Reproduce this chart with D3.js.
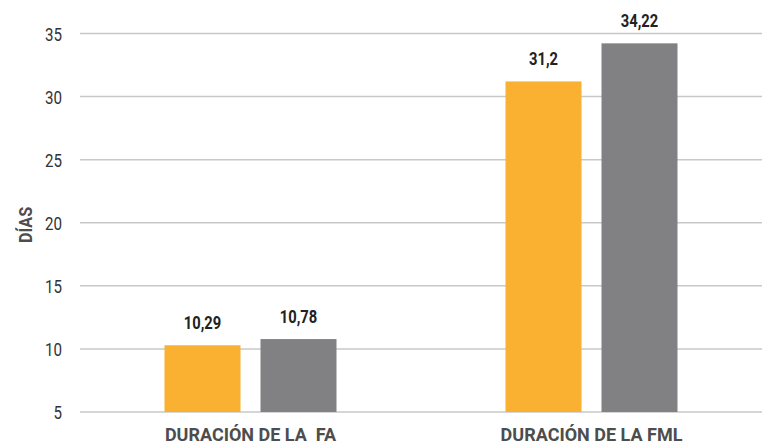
<!DOCTYPE html>
<html><head><meta charset="utf-8">
<script src="https://cdn.jsdelivr.net/npm/d3@7"></script>
<style>
body{margin:0;background:#fff;}
text{font-family:Roboto,"Noto Sans",sans-serif;}
</style></head>
<body><svg id="c" width="766" height="445"></svg>
<script>
const categories = ["DURACIÓN DE LA  FA", "DURACIÓN DE LA FML"];
const seriesNames = ["A", "B"];
const seriesA = [10.29, 31.2];
const seriesB = [10.78, 34.22];
const valueLabelsA = ["10,29", "31,2"];
const valueLabelsB = ["10,78", "34,22"];
const yTicks = [5, 10, 15, 20, 25, 30, 35];
const colors = ["#FAB131", "#818184"];
const SX = 0.82;

const svg = d3.select("#c");
const x0 = d3.scaleBand().domain(categories).range([80, 762]).paddingInner(0).paddingOuter(0);
const y = d3.scaleLinear().domain([5, 35]).range([412, 33.5]);
const barW = 76, gap = 20;
const x1 = d3.scaleBand().domain(seriesNames).range([0, barW*2+gap]).paddingInner(gap/(barW+gap));

// grid
svg.append("g").selectAll("line").data(yTicks).join("line")
  .attr("x1", 80).attr("x2", 762)
  .attr("y1", d => y(d)).attr("y2", d => y(d))
  .attr("stroke", "#c8c8c8").attr("stroke-width", 1.5);

// y axis labels
const yAxis = d3.axisLeft(y).tickValues(yTicks).tickSize(0).tickPadding(0);
const ga = svg.append("g").attr("transform", "translate(62,0)").call(yAxis);
ga.select(".domain").remove();
ga.selectAll("text").attr("font-size", 18.5).attr("fill", "#333").attr("dy", "0.36em")
  .attr("transform", `scale(${SX},1)`)
  .style("font-family", 'Roboto,"Noto Sans",sans-serif');

svg.append("text").attr("transform", `translate(32,225) rotate(-90) scale(0.9,1)`)
  .attr("text-anchor", "middle").attr("font-size", 18).attr("font-weight", "bold")
  .attr("fill", "#4d4d4d").text("DÍAS");

const rows = categories.map((c, i) => ({c, vals: [
  {s: "A", v: seriesA[i], l: valueLabelsA[i], col: colors[0]},
  {s: "B", v: seriesB[i], l: valueLabelsB[i], col: colors[1]}]}));

const g = svg.append("g").selectAll("g").data(rows).join("g")
  .attr("transform", d => `translate(${x0(d.c) + x0.bandwidth()/2 - (barW*2+gap)/2},0)`);

g.selectAll("rect").data(d => d.vals).join("rect")
  .attr("x", d => x1(d.s)).attr("width", x1.bandwidth())
  .attr("y", d => y(d.v)).attr("height", d => y(5) - y(d.v))
  .attr("fill", d => d.col);

g.selectAll("text.v").data(d => d.vals).join("text").attr("class", "v")
  .attr("transform", d => `translate(${x1(d.s) + x1.bandwidth()/2},${y(d.v) - 16}) scale(${SX},1)`)
  .attr("text-anchor", "middle").attr("font-size", 18).attr("font-weight", "bold")
  .attr("fill", "#222").text(d => d.l);

svg.append("g").selectAll("text").data(categories).join("text")
  .attr("transform", d => `translate(${x0(d) + x0.bandwidth()/2},440.5)`)
  .attr("text-anchor", "middle").attr("font-size", 18).attr("font-weight", "bold")
  .attr("fill", "#4d4d4d").attr("xml:space", "preserve").style("white-space", "pre")
  .text(d => d);
</script></body></html>
